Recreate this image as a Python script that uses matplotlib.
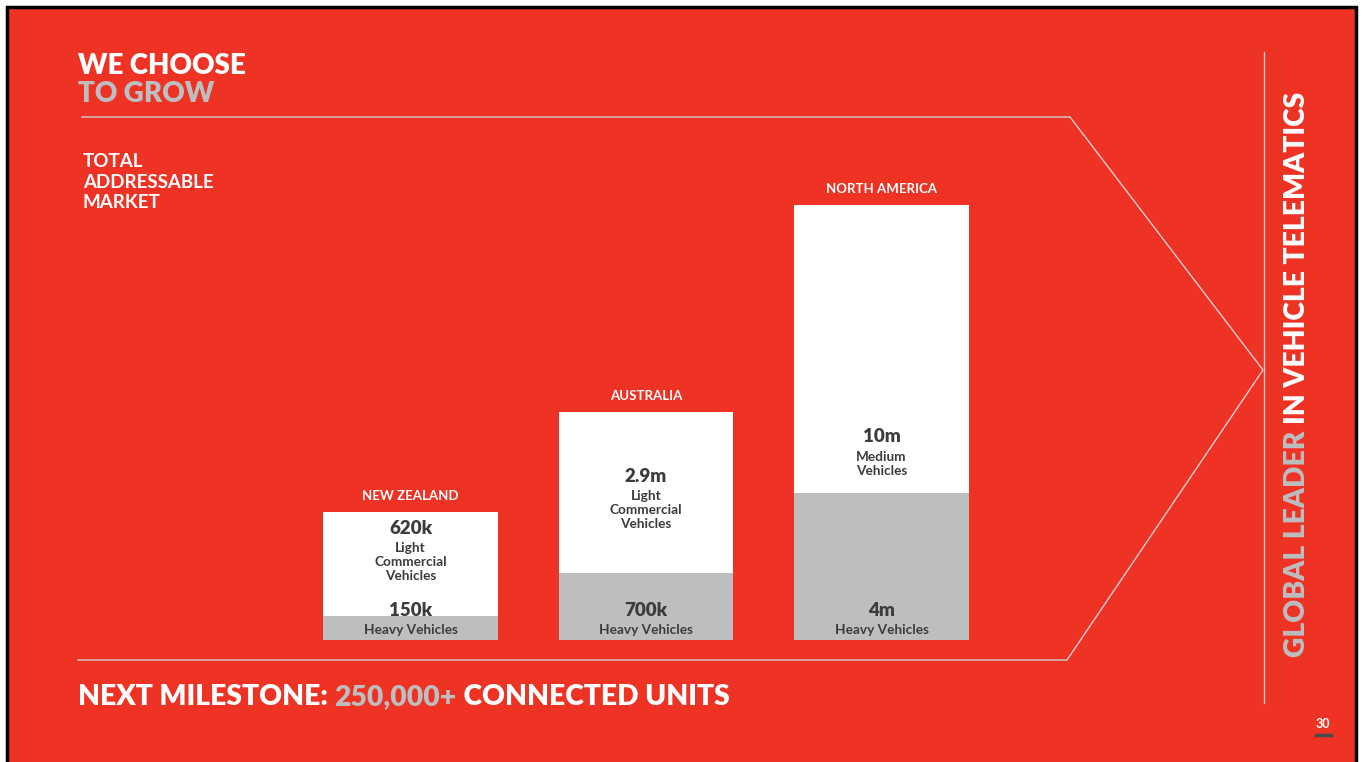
import matplotlib.pyplot as plt
from matplotlib.patches import Rectangle


# DATA

regions = ["NEW ZEALAND", "AUSTRALIA", "NORTH AMERICA"]
heavy_labels = ["150k", "700k", "4m"]
upper_labels = ["620k", "2.9m", "10m"]
upper_names = ["Light\nCommercial\nVehicles", "Light\nCommercial\nVehicles", "Medium\nVehicles"]
# bar heights as drawn on the slide (not to scale with the labels)
heavy_heights = [24, 67, 147]
upper_heights = [104, 161, 288]


# STYLE

RED = "#EE3224"
GREY = "#BCBEC0"
DARK = "#3C3C3E"
LINE = "#D0CFCF"
FONT = "Lato"

W, H = 1362, 762
fig = plt.figure(figsize=(W / 100, H / 100), dpi=100)
fig.patch.set_facecolor("white")

# slide background in pixel coordinates
bg = fig.add_axes([0, 0, 1, 1])
bg.set_xlim(0, W)
bg.set_ylim(H, 0)
bg.axis("off")
bg.add_patch(Rectangle((6.5, 6.5), 1349, 770, facecolor=RED, edgecolor="black", lw=2.5))

# chevron outline and divider
bg.plot([82, 1070, 1263, 1067, 78], [117, 117, 370, 660, 660], color=LINE, lw=1)
bg.plot([1264, 1264], [52, 703], color=LINE, lw=1)

# titles
bg.text(78, 74, "WE CHOOSE", color="white", fontsize=20, fontweight="heavy",
        family=FONT, va="baseline")
bg.text(78, 102, "TO GROW", color=GREY, fontsize=20, fontweight="heavy",
        family=FONT, va="baseline")
bg.text(83, 182, "TOTAL\nADDRESSABLE\nMARKET", color="white", fontsize=13.5,
        fontweight="bold", family=FONT, va="center", linespacing=1.25)

t1 = bg.text(78, 705, "NEXT MILESTONE: ", color="white", fontsize=20.3,
             fontweight="heavy", family=FONT, va="baseline")
t2 = bg.annotate("250,000+", xy=(1, 0), xycoords=t1, color=GREY, fontsize=20.3,
                 fontweight="heavy", family=FONT, va="bottom")
bg.annotate(" CONNECTED UNITS", xy=(1, 0), xycoords=t2, color="white", fontsize=20.3,
            fontweight="heavy", family=FONT, va="bottom")

v1 = bg.text(1297, 657, "GLOBAL LEADER ", color=GREY, fontsize=20.3,
             fontweight="heavy", family=FONT, rotation=90, ha="center", va="bottom")
bg.annotate("IN VEHICLE TELEMATICS", xy=(0.5, 1), xycoords=v1, color="white",
            fontsize=20.3, fontweight="heavy", family=FONT, rotation=90,
            ha="center", va="bottom")

# page number
bg.text(1323, 724, "30", color="white", fontsize=9, fontweight="bold",
        family=FONT, ha="center", va="center")
bg.plot([1316, 1331], [735, 735], color="#4A4A4A", lw=2.5)


# BARS

ax = fig.add_axes([0, (H - 640) / H, 1, 540 / H])
ax.patch.set_alpha(0)
ax.axis("off")
ax.set_xlim(-410.5 / 235.5, (W - 410.5) / 235.5)
ax.set_ylim(0, 540)

x = range(len(regions))
ax.bar(x, heavy_heights, width=0.743, color=GREY)
ax.bar(x, upper_heights, bottom=heavy_heights, width=0.743, color="white")

# y (in bar-axis pixels) of the upper value label inside each bar
upper_label_y = [112, 164, 203]

for i in x:
    top = heavy_heights[i] + upper_heights[i]
    ax.text(i, top + 16, regions[i], color="white", fontsize=9.5, fontweight="bold",
            family=FONT, ha="center", va="center")
    ax.text(i, upper_label_y[i], upper_labels[i], color=DARK, fontsize=13.5,
            fontweight="heavy", family=FONT, ha="center", va="center")
    ax.text(i, upper_label_y[i] - 14, upper_names[i], color=DARK, fontsize=9.8,
            fontweight="bold", family=FONT, ha="center", va="top", linespacing=1.22)
    ax.text(i, 29, heavy_labels[i], color=DARK, fontsize=13.5, fontweight="heavy",
            family=FONT, ha="center", va="center")
    ax.text(i, 10, "Heavy Vehicles", color=DARK, fontsize=9.8, fontweight="bold",
            family=FONT, ha="center", va="center")

fig.savefig("out.png", dpi=100, facecolor=fig.get_facecolor())
